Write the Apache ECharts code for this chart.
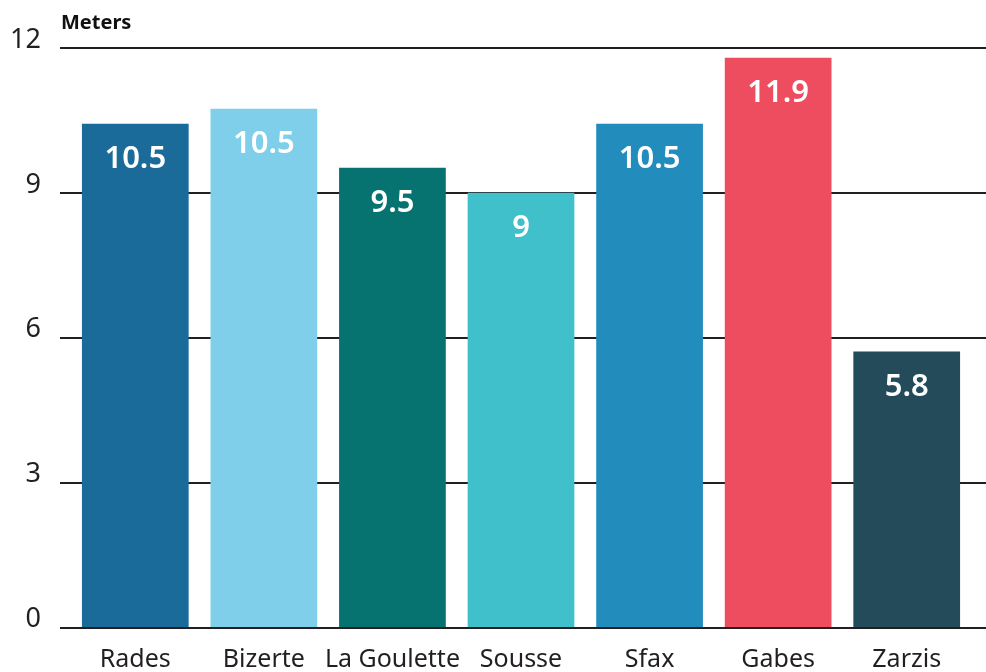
<!DOCTYPE html>
<html><head><meta charset="utf-8">
<script src="https://cdn.jsdelivr.net/npm/echarts@6/dist/echarts.min.js"></script>
<style>html,body{margin:0;padding:0;background:#fff}#c{width:986px;height:672px}</style>
</head><body><div id="c"></div>
<script>
const categories = ["Rades", "Bizerte", "La Goulette", "Sousse", "Sfax", "Gabes", "Zarzis"];
const barHeights = [10.43, 10.74, 9.52, 9.0, 10.43, 11.8, 5.71];
const valueLabels = ["10.5", "10.5", "9.5", "9", "10.5", "11.9", "5.8"];
const barColors = ["#1a6a9a", "#7fcfea", "#077370", "#40c0ca", "#228cbd", "#ee4c5f", "#244b5a"];
const yTicks = [0, 3, 6, 9, 12];

const FONT = "Noto Sans";
const chart = echarts.init(document.getElementById('c'), null, {renderer: 'canvas'});
chart.setOption({
  animation: false,
  title: {text: "Meters", left: 61, top: 13, padding: 0, textStyle: {fontFamily: FONT, fontSize: 20, fontWeight: 'bold', color: '#111'}},
  grid: [
    {left: 60, right: 0, top: 48, bottom: 44.5},
    {left: 71, right: 15, top: 48, bottom: 44.5}
  ],
  xAxis: [
    {type: 'category', gridIndex: 0, data: categories, show: false},
    {type: 'category', gridIndex: 1, data: categories,
     axisLine: {show: false}, axisTick: {show: false},
     axisLabel: {margin: 20, fontFamily: FONT, fontSize: 25, color: '#231f20', interval: 0}}
  ],
  yAxis: [
    {type: 'value', gridIndex: 0, min: 0, max: 12, interval: 3,
     axisLine: {show: false}, axisTick: {show: false},
     splitLine: {lineStyle: {color: '#231f20', width: 2}},
     axisLabel: {margin: 19, fontFamily: FONT, fontSize: 27, color: '#231f20', verticalAlign: 'bottom', lineHeight: 16,
       formatter: v => yTicks.includes(v) ? String(v) : ''}},
    {type: 'value', gridIndex: 1, min: 0, max: 12, interval: 3, show: false, splitLine: {show: false}}
  ],
  series: [{
    type: 'bar', xAxisIndex: 1, yAxisIndex: 1, barCategoryGap: '17%',
    data: barHeights.map((v, i) => ({value: v, itemStyle: {color: barColors[i]}})),
    label: {show: true, position: 'insideTop', distance: 20, fontFamily: FONT, fontSize: 31, fontWeight: 600, color: '#fff',
      formatter: p => valueLabels[p.dataIndex]}
  }]
});
</script></body></html>
